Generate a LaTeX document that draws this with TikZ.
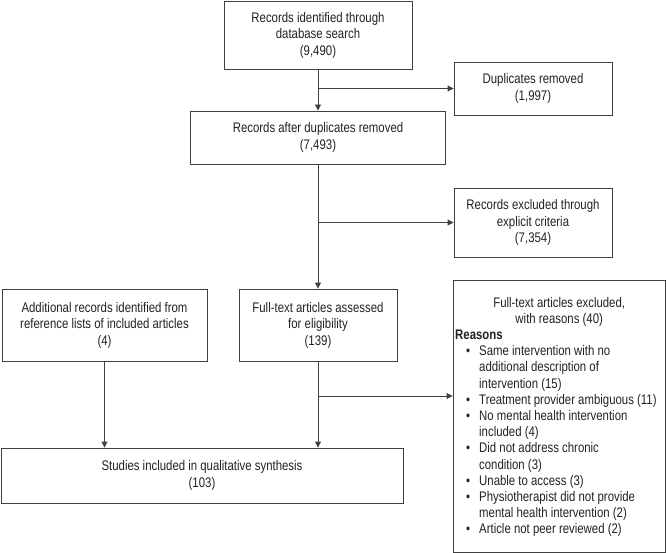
\documentclass[tikz,border=0pt]{standalone}
\usepackage{fontspec}
\setmainfont[FakeStretch=0.82]{Liberation Sans}
\usetikzlibrary{arrows.meta}
\definecolor{ln}{HTML}{404040}
\definecolor{tx}{HTML}{222222}
\newcommand{\bl}{\makebox[24pt][l]{\hspace*{11pt}\textbullet}}
\newcommand{\bi}{\hspace*{24pt}}
\begin{document}
\begin{tikzpicture}[x=1pt,y=-1pt,
  box/.style={draw=ln, line width=0.9pt, text=tx, align=center, inner sep=0pt,
    font=\fontsize{13.9}{16.5}\selectfont},
  arr/.style={draw=ln, line width=0.9pt, -{Triangle[length=6pt,width=6pt]}}]
\useasboundingbox (0,0) rectangle (666,553);
\node[box, minimum width=188, minimum height=68] (A) at (318,35) {Records identified through\\database search\\(9,490)};
\node[box, minimum width=158, minimum height=53] (B) at (533,88.5) {Duplicates removed\\(1,997)};
\node[box, minimum width=255, minimum height=53] (C) at (318,137.5) {Records after duplicates removed\\(7,493)};
\node[box, minimum width=158, minimum height=69] (D) at (533,222.5) {Records excluded through\\explicit criteria\\(7,354)};
\node[box, minimum width=205, minimum height=72] (E) at (104.5,325) {Additional records identified from\\reference lists of included articles\\(4)};
\node[box, minimum width=158, minimum height=72] (F) at (318,325) {Full-text articles assessed\\for eligibility\\(139)};
\node[box, minimum width=402, minimum height=55] (G) at (202,475.5) {Studies included in qualitative synthesis\\(103)};
\node[box, minimum width=212, minimum height=272] (H) at (559,416) {};
\node[anchor=base west, inner sep=0pt, text=tx, font=\fontsize{13.9}{16.2}\selectfont] (Ht) at (455,307) {%
\begin{minipage}[t]{208pt}
\centering Full-text articles excluded,\\with reasons (40)\par
\raggedright\textbf{Reasons}\par
\begin{tabular}[t]{@{}l@{}}
\bl Same intervention with no\\
\bi additional description of\\
\bi intervention (15)\\
\bl Treatment provider ambiguous (11)\\
\bl No mental health intervention\\
\bi included (4)\\
\bl Did not address chronic\\
\bi condition (3)\\
\bl Unable to access (3)\\
\bl Physiotherapist did not provide\\
\bi mental health intervention (2)\\
\bl Article not peer reviewed (2)
\end{tabular}
\end{minipage}};
\coordinate (Hin) at ([yshift=20pt]H.west);
\draw[arr] (A) -- (C);
\draw[arr] (A.south |- B.west) -- (B.west);
\draw[arr] (C) -- (F);
\draw[arr] (C.south |- D.west) -- (D.west);
\draw[arr] (F) -- (F.south |- G.north);
\draw[arr] (F.south |- Hin) -- (Hin);
\draw[arr] (E) -- (E.south |- G.north);
\end{tikzpicture}
\end{document}
